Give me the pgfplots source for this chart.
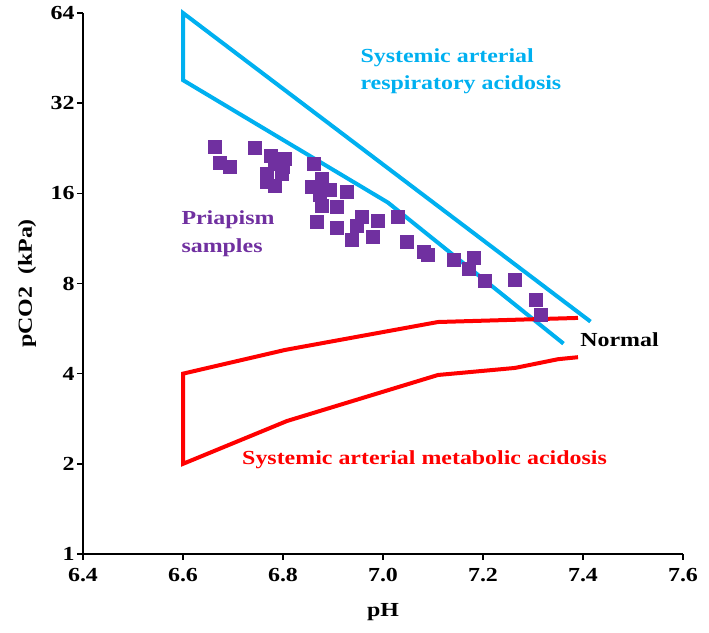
\documentclass[border=0pt]{standalone}
\usepackage{fontspec}
\setmainfont{Liberation Serif}[FakeStretch=1.2]
\usepackage{pgfplots}
\pgfplotsset{compat=1.18}
\definecolor{cblue}{HTML}{00B0F0}
\definecolor{cred}{HTML}{FF0000}
\definecolor{cpurple}{HTML}{7030A0}
\newcommand\fs{\fontsize{20}{24}\selectfont\bfseries}
\newcommand\fsb{\fontsize{20}{28}\selectfont\bfseries}
\begin{document}
\begin{tikzpicture}
\begin{axis}[at={(0,0)}, anchor=south west,
  scale only axis, width=600bp, height=541bp,
  xmin=6.4, xmax=7.6, ymin=1, ymax=64,
  ymode=log, log basis y=2,
  xtick={6.4,6.6,6.8,7.0,7.2,7.4,7.6},
  xticklabels={6.4,6.6,6.8,7.0,7.2,7.4,7.6},
  ytick={1,2,4,8,16,32,64},
  yticklabels={1,2,4,8,16,32,64},
  yminorticks=false, xminorticks=false,
  axis x line=bottom, axis y line=left,
  axis line style={-, line width=2.5bp, black},
  tick align=outside, major tick length=6bp,
  tick style={black, line width=1.5bp},
  ticklabel style={font=\fs},
  x tick label style={yshift=-5bp},
  y tick label style={xshift=1bp},
  xlabel={pH}, ylabel={pCO2\ \ (kPa)},
  label style={font=\fs},
  x label style={at={(rel axis cs:0.5,-0.107)}, anchor=center},
  y label style={at={(rel axis cs:-0.093,0.5)}, anchor=center},
  clip=false,
]
\addplot[cblue, line width=4bp, mark=none] coordinates {
  (7.415,5.97) (6.6,64) (6.6,38.2) (7.01,14.9) (7.361,5.04)
};
\addplot[cred, line width=4bp, mark=none] coordinates {
  (7.39,6.14) (7.11,5.95) (6.804,4.8) (6.6,4.0) (6.6,2.0)
  (6.808,2.78) (7.11,3.96) (7.264,4.18) (7.35,4.47) (7.39,4.54)
};
\addplot[only marks, mark=square*, mark size=6.5bp, color=cpurple] coordinates {
  (6.664,22.9) (6.674,20.2) (6.694,19.6) (6.744,22.8) (6.776,21.3)
  (6.804,20.8) (6.767,18.6) (6.767,17.5) (6.784,17.0) (6.797,18.6)
  (6.800,19.6) (6.784,20.1) (6.862,20.1) (6.877,17.9) (6.857,16.8)
  (6.894,16.4) (6.874,15.8) (6.877,14.6) (6.907,14.4) (6.927,16.2)
  (6.867,12.85) (6.907,12.3) (6.957,13.4) (6.947,12.5) (6.989,13.0)
  (6.979,11.45) (6.937,11.2) (7.029,13.4) (7.047,11.0) (7.081,10.2)
  (7.090,10.0) (7.142,9.63) (7.182,9.75) (7.172,8.94) (7.204,8.15)
  (7.264,8.26) (7.305,7.04) (7.315,6.28) (6.877,17.2)
};
\node[cblue, font=\fsb, align=left, anchor=west] at (axis cs:6.948,40.9) {Systemic arterial\\respiratory acidosis};
\node[cpurple, font=\fsb, align=left, anchor=west] at (axis cs:6.59,11.7) {Priapism\\samples};
\node[black, font=\fsb, anchor=center] at (axis cs:7.473,5.18) {Normal};
\node[cred, font=\fsb, anchor=center] at (axis cs:7.083,2.06) {Systemic arterial metabolic acidosis};
\end{axis}
\pgfresetboundingbox
\path[use as bounding box] (-83bp,-79bp) rectangle (626bp,554bp);
\end{tikzpicture}
\end{document}
